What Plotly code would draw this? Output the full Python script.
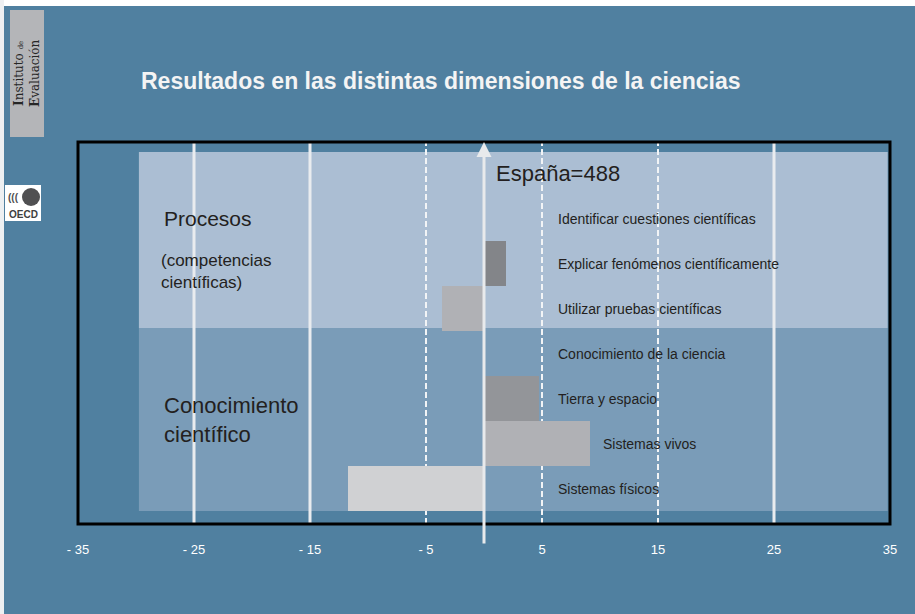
import plotly.graph_objects as go

# ---------------- data ----------------
categories = [
    "Identificar cuestiones científicas",
    "Explicar fenómenos científicamente",
    "Utilizar pruebas científicas",
    "Conocimiento de la ciencia",
    "Tierra y espacio",
    "Sistemas vivos",
    "Sistemas físicos",
]
differences = [0, 1.9, -3.6, 0, 4.7, 9.1, -11.7]
bar_colors = ["#838589", "#838589", "#b0b1b5", "#939599", "#939599", "#b0b1b5", "#d0d1d3"]
tick_values = [-35, -25, -15, -5, 5, 15, 25, 35]
tick_labels = ["- 35", "- 25", "- 15", "- 5", "5", "15", "25", "35"]
title_text = "Resultados en las distintas dimensiones de la ciencias"
reference_label = "España=488"
group_labels = ["Procesos", "Conocimiento<br>científico"]
group_sublabel = "(competencias<br>científicas)"

FONT = "Liberation Sans, Arial, sans-serif"
BLUE = "#5080a0"
W, H = 915, 614
ML, MR, MT, MB = 78, 25, 142, 90
PW, PH = W - ML - MR, H - MT - MB
Y_RANGE = [6.778, -1.711]


def px_x(px):
    return (px - ML) / PW


def px_y(py):
    return (H - MB - py) / PH


ypos = list(range(len(categories)))

fig = go.Figure()
fig.add_trace(go.Bar(
    x=differences, y=ypos, orientation="h",
    marker=dict(color=bar_colors, line=dict(width=0)),
    width=1.0, hoverinfo="skip",
))

shapes = []
# page: white edge strips
shapes.append(dict(type="rect", xref="paper", yref="paper", x0=px_x(0), x1=px_x(W),
                   y0=px_y(6), y1=px_y(0), fillcolor="#ffffff", line=dict(width=0), layer="below"))
shapes.append(dict(type="rect", xref="paper", yref="paper", x0=px_x(0), x1=px_x(4),
                   y0=px_y(H), y1=px_y(0), fillcolor="#eef0f2", line=dict(width=0), layer="below"))
# bands
shapes.append(dict(type="rect", xref="x", yref="y", x0=-29.75, x1=34.8, y0=-1.49, y1=2.42,
                   fillcolor="#abbed3", line=dict(width=0), layer="below"))
shapes.append(dict(type="rect", xref="x", yref="y", x0=-29.75, x1=34.8, y0=2.42, y1=6.49,
                   fillcolor="#7a9cb8", line=dict(width=0), layer="below"))
# vertical grid lines (drawn over the bands, under the bars)
for v in [-25, -15, 25]:
    shapes.append(dict(type="line", xref="x", yref="y", x0=v, x1=v, y0=Y_RANGE[0], y1=Y_RANGE[1],
                       line=dict(color="#e9ecef", width=3), layer="below"))
for v in [-5, 5, 15]:
    shapes.append(dict(type="line", xref="x", yref="y", x0=v, x1=v, y0=Y_RANGE[0], y1=Y_RANGE[1],
                       line=dict(color="#f2f4f6", width=2, dash="6px,3px"), layer="below"))
# plot border
shapes.append(dict(type="rect", xref="paper", yref="paper", x0=0, x1=1, y0=0, y1=1,
                   line=dict(color="#000000", width=3), fillcolor="rgba(0,0,0,0)", layer="above"))
# logo boxes
shapes.append(dict(type="rect", xref="paper", yref="paper", x0=px_x(10), x1=px_x(44),
                   y0=px_y(137), y1=px_y(10), fillcolor="#b4b5b8", line=dict(width=0)))
shapes.append(dict(type="rect", xref="paper", yref="paper", x0=px_x(5), x1=px_x(41),
                   y0=px_y(221), y1=px_y(185), fillcolor="#ffffff", line=dict(width=0)))
shapes.append(dict(type="circle", xref="paper", yref="paper", x0=px_x(22), x1=px_x(40),
                   y0=px_y(206), y1=px_y(188), fillcolor="#505052", line=dict(width=0)))

annotations = []
# title
annotations.append(dict(xref="paper", yref="paper", x=px_x(139), y=px_y(81), xanchor="left",
                        yanchor="middle", showarrow=False, text="<b>" + title_text + "</b>",
                        font=dict(family=FONT, size=23, color="#f4f4f4")))
# zero arrow
annotations.append(dict(xref="x", yref="paper", x=0, y=1, ax=0, ay=403, axref="pixel",
                        ayref="pixel", showarrow=True, arrowhead=2, arrowsize=1.0,
                        arrowwidth=3, arrowcolor="#e8eaec", text=""))
# reference label
annotations.append(dict(xref="x", yref="y", x=0.85, y=-1.02, xanchor="left", yanchor="middle",
                        showarrow=False, text=reference_label,
                        font=dict(family=FONT, size=22, color="#231f20")))
# group labels
annotations.append(dict(xref="x", yref="y", x=-27.8, y=0.0, xanchor="left", yanchor="middle",
                        showarrow=False, text=group_labels[0],
                        font=dict(family=FONT, size=21, color="#231f20")))
annotations.append(dict(xref="x", yref="y", x=-28.0, y=1.17, xanchor="left", yanchor="middle",
                        showarrow=False, text=group_sublabel, align="left",
                        font=dict(family=FONT, size=17, color="#231f20")))
annotations.append(dict(xref="x", yref="y", x=-27.8, y=4.47, xanchor="left", yanchor="middle",
                        showarrow=False, text=group_labels[1], align="left",
                        font=dict(family=FONT, size=22, color="#231f20")))
# category labels
for i, (c, v) in enumerate(zip(categories, differences)):
    lx = max(6.2, v + 1.0)
    annotations.append(dict(xref="x", yref="y", x=lx, y=i, xanchor="left", yanchor="middle",
                            showarrow=False, text=c,
                            font=dict(family=FONT, size=14, color="#231f20")))
# logos text
annotations.append(dict(xref="paper", yref="paper", x=px_x(27), y=px_y(73), showarrow=False,
                        textangle=-90,
                        text="<b>I</b>nstituto <span style='font-size:7px'>de</span><br><b>E</b>valuación",
                        font=dict(family="DejaVu Serif, serif", size=12, color="#262626"),
                        xanchor="center", yanchor="middle"))
annotations.append(dict(xref="paper", yref="paper", x=px_x(23), y=px_y(214), showarrow=False,
                        text="<b>OECD</b>", font=dict(family=FONT, size=10, color="#404040"),
                        xanchor="center", yanchor="middle"))
annotations.append(dict(xref="paper", yref="paper", x=px_x(13), y=px_y(197), showarrow=False,
                        text="<b>(((</b>", font=dict(family=FONT, size=10, color="#505052"),
                        xanchor="center", yanchor="middle"))

fig.update_layout(
    width=W, height=H,
    margin=dict(l=ML, r=MR, t=MT, b=MB, pad=0),
    paper_bgcolor=BLUE, plot_bgcolor=BLUE,
    showlegend=False, bargap=0,
    shapes=shapes, annotations=annotations,
    xaxis=dict(range=[-35, 35], tickvals=tick_values, ticktext=tick_labels,
               showgrid=False, zeroline=False, showline=False, ticks="",
               ticklabelstandoff=16,
               tickfont=dict(family=FONT, size=13, color="#ffffff"), fixedrange=True),
    yaxis=dict(range=Y_RANGE, showticklabels=False, showgrid=False,
               zeroline=False, showline=False, ticks="", fixedrange=True),
)

fig.write_html("out.html", config={"displayModeBar": False},
               post_script="document.body.style.margin='0';document.body.style.padding='0';")
